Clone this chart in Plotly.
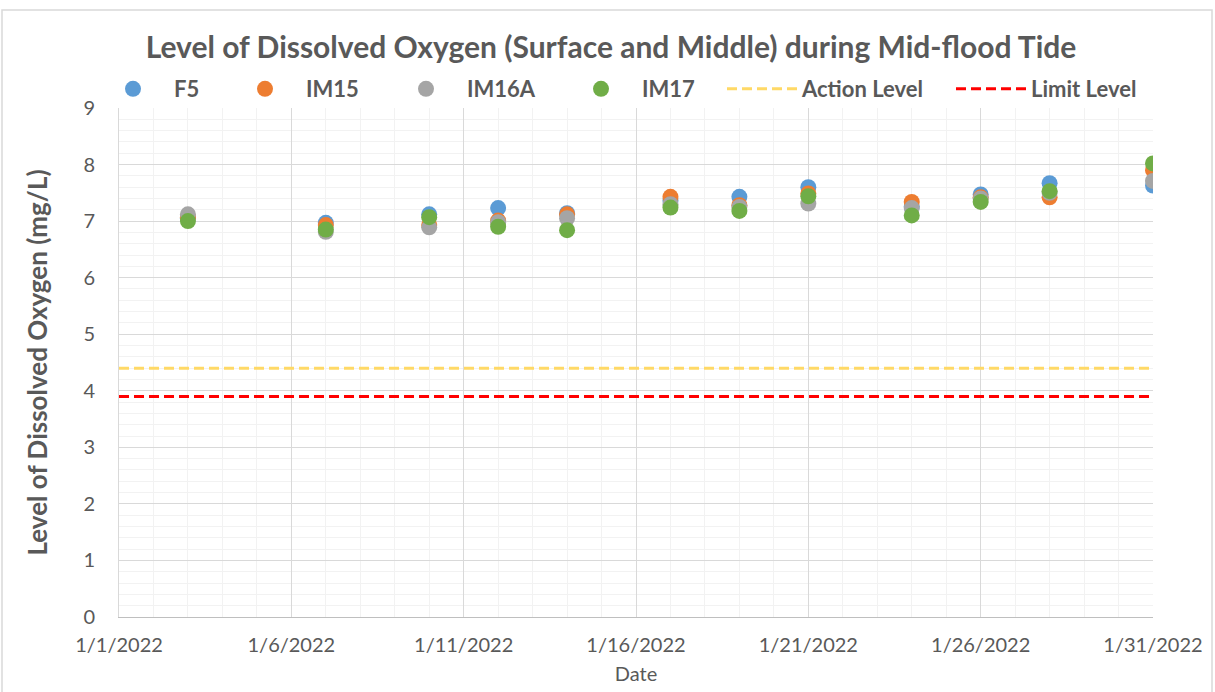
import plotly.graph_objects as go

dates = ["2022-01-03", "2022-01-07", "2022-01-10", "2022-01-12", "2022-01-14", "2022-01-17",
         "2022-01-19", "2022-01-21", "2022-01-24", "2022-01-26", "2022-01-28", "2022-01-31"]
f5 = [7.05, 6.97, 7.12, 7.23, 7.14, 7.36, 7.43, 7.60, 7.26, 7.47, 7.67, 7.63]
im15 = [7.07, 6.93, 6.93, 7.01, 7.12, 7.43, 7.28, 7.49, 7.34, 7.42, 7.42, 7.90]
im16a = [7.12, 6.81, 6.89, 6.98, 7.05, 7.30, 7.25, 7.31, 7.23, 7.40, 7.50, 7.71]
im17 = [7.00, 6.85, 7.07, 6.90, 6.84, 7.24, 7.18, 7.44, 7.10, 7.34, 7.53, 8.02]
level_dates = ["2022-01-01", "2022-01-31"]
action_level = 4.4
limit_level = 3.9

FONT = "Lato"
GREY = "#595959"

fig = go.Figure()
series = [("F5", f5, "#5B9BD5"), ("IM15", im15, "#ED7D31"),
          ("IM16A", im16a, "#A5A5A5"), ("IM17", im17, "#70AD47")]
for i, (name, vals, col) in enumerate(series):
    fig.add_trace(go.Scatter(x=dates, y=vals, mode="markers", name=name,
                             marker=dict(color=col, size=16, line=dict(width=0)),
                             legend="legend" if i == 0 else f"legend{i+1}"))
fig.add_trace(go.Scatter(x=level_dates, y=[action_level] * 2, mode="lines", name="Action Level",
                         line=dict(color="#FFD966", width=3, dash="10px,5px"), legend="legend5"))
fig.add_trace(go.Scatter(x=level_dates, y=[limit_level] * 2, mode="lines", name="Limit Level",
                         line=dict(color="#FF0000", width=3, dash="10px,5px"), legend="legend6"))

L, R, T, B = 119, 62, 108, 75
W, H = 1215, 692
pw, ph = W - L - R, H - T - B

def px(xp):
    return (xp - L) / pw

def py(yp):
    return (H - B - yp) / ph

leg_common = dict(orientation="h", yanchor="middle", xanchor="left", bgcolor="rgba(0,0,0,0)",
                  font=dict(family=FONT, size=22, color=GREY, weight="bold"))
# (left edge of legend box in pixels, item width)
leg_pos = [(133 - 41, 72), (265 - 41, 72), (426 - 41, 72), (601 - 41, 72), (722, 70), (951, 70)]
layout_legends = {}
for i, (lx, iw) in enumerate(leg_pos):
    key = "legend" if i == 0 else f"legend{i+1}"
    layout_legends[key] = dict(leg_common, x=px(lx), y=py(89), itemwidth=iw)

fig.update_layout(
    width=W, height=H,
    margin=dict(l=L, r=R, t=T, b=B),
    paper_bgcolor="white", plot_bgcolor="white",
    title=dict(text="Level of Dissolved Oxygen (Surface and Middle) during Mid-flood Tide",
               x=611 / W, xref="container", xanchor="center",
               y=1 - 47 / H, yref="container", yanchor="middle",
               font=dict(family=FONT, size=30, color=GREY, weight="bold")),
    showlegend=True,
    **layout_legends,
)
fig.update_xaxes(type="date", range=["2022-01-01", "2022-01-31"],
                 tick0="2022-01-01", dtick=5 * 86400000, tickformat="%-m/%-d/%Y",
                 showgrid=True, gridcolor="#D9D9D9", gridwidth=1,
                 minor=dict(dtick=86400000, showgrid=True, gridcolor="#F2F2F2"),
                 showline=True, linecolor="#BFBFBF", linewidth=1,
                 ticks="outside", ticklen=10, tickcolor="rgba(0,0,0,0)",
                 tickfont=dict(family=FONT, size=20, color=GREY),
                 title=dict(text="Date", font=dict(family=FONT, size=20, color=GREY), standoff=11),
                 zeroline=False)
fig.update_yaxes(range=[0, 9], dtick=1, showgrid=True, gridcolor="#D9D9D9", gridwidth=1,
                 minor=dict(dtick=0.2, showgrid=True, gridcolor="#F2F2F2"),
                 showline=True, linecolor="#D9D9D9", linewidth=1,
                 ticks="outside", ticklen=19, tickcolor="rgba(0,0,0,0)",
                 tickfont=dict(family=FONT, size=20, color=GREY),
                 title=dict(text="Level of Dissolved Oxygen (mg/L)",
                            font=dict(family=FONT, size=26, color=GREY, weight="bold"), standoff=28),
                 zeroline=False)

fig.add_shape(type="rect", xref="paper", yref="paper",
              x0=px(2), x1=px(1212), y0=py(10), y1=py(700),
              line=dict(color="#D9D9D9", width=1.5), fillcolor="rgba(0,0,0,0)", layer="below")

fig.write_html("out.html", config={"displayModeBar": False},
               post_script="document.body.style.margin='0';")
